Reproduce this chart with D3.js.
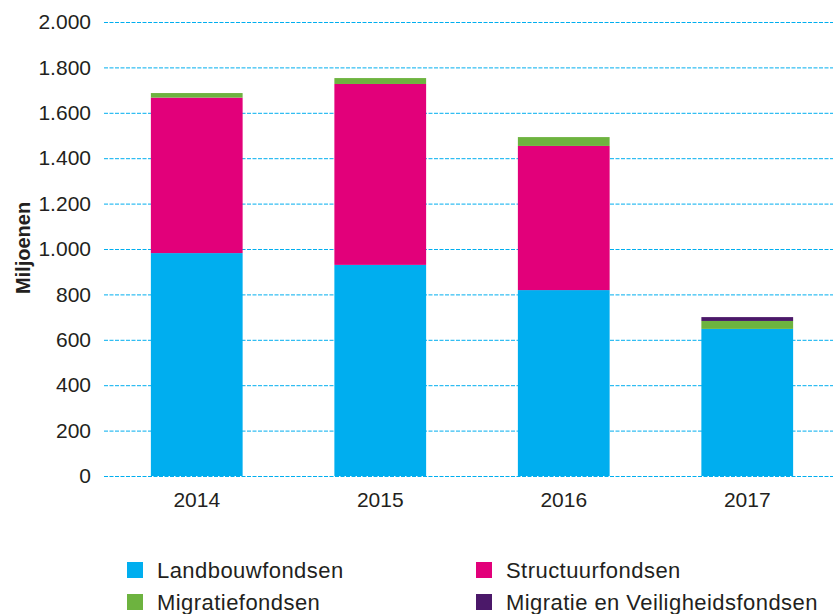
<!DOCTYPE html>
<html>
<head>
<meta charset="utf-8">
<script src="https://cdn.jsdelivr.net/npm/d3@7"></script>
<style>
  body { margin: 0; background: #fff; }
  text { font-family: "Liberation Sans", Arial, sans-serif; fill: #231f20; }
</style>
</head>
<body>
<div id="chart"></div>
<script>
// years and series (miljoenen euro)
var years = ["2014", "2015", "2016", "2017"];
var seriesNames = ["Landbouwfondsen", "Structuurfondsen", "Migratiefondsen", "Migratie en Veiligheidsfondsen"];
var landbouw = [982, 930, 819, 648];
var structuur = [685, 797, 635, 0];
var migratie = [20, 26, 39, 35];
var veiligheid = [0, 0, 0, 17];
var yTicks = [0, 200, 400, 600, 800, 1000, 1200, 1400, 1600, 1800, 2000];
var colors = ["#00aeef", "#e2007a", "#6db33f", "#4b1869"];

var width = 833, height = 614;
var margin = { top: 22, right: 0, bottom: 138, left: 104 };

var svg = d3.select("#chart").append("svg")
  .attr("width", width)
  .attr("height", height);

var rows = years.map(function(y, i) {
  return { Year: y, Landbouwfondsen: landbouw[i], Structuurfondsen: structuur[i],
    Migratiefondsen: migratie[i], "Migratie en Veiligheidsfondsen": veiligheid[i] };
});

var x = d3.scaleBand()
  .domain(years)
  .range([105, 839])
  .paddingInner(0.5)
  .paddingOuter(0.25);

var y = d3.scaleLinear()
  .domain([0, 2000])
  .range([height - margin.bottom, margin.top]);

var color = d3.scaleOrdinal().domain(seriesNames).range(colors);

// gridlines
svg.append("g")
  .selectAll("line")
  .data(yTicks)
  .enter()
  .append("line")
  .attr("x1", margin.left)
  .attr("x2", width)
  .attr("y1", function(d) { return y(d) + 0.5; })
  .attr("y2", function(d) { return y(d) + 0.5; })
  .attr("stroke", "#00aeef")
  .attr("stroke-width", 1)
  .attr("stroke-dasharray", "4,1.5");

// stacked bars
var stack = d3.stack().keys(seriesNames);
var layers = stack(rows);

svg.append("g")
  .selectAll("g")
  .data(layers)
  .enter()
  .append("g")
  .attr("fill", function(d) { return color(d.key); })
  .selectAll("rect")
  .data(function(d) { return d; })
  .enter()
  .append("rect")
  .attr("x", function(d) { return x(d.data.Year); })
  .attr("y", function(d) { return y(d[1]); })
  .attr("width", x.bandwidth())
  .attr("height", function(d) { return y(d[0]) - y(d[1]); });

// y axis labels
var fmt = function(d) { return d3.format(",")(d).replace(/,/g, "."); };
var yAxis = svg.append("g")
  .attr("transform", "translate(" + margin.left + ",0)")
  .call(d3.axisLeft(y).tickValues(yTicks).tickFormat(fmt).tickSize(0).tickPadding(13));
yAxis.select(".domain").remove();
yAxis.selectAll("text")
  .style("font-size", "21px")
  .style("font-family", "'Liberation Sans', Arial, sans-serif")
  .attr("fill", "#231f20");

// x axis labels
var xAxis = svg.append("g")
  .attr("transform", "translate(0," + (height - margin.bottom) + ")")
  .call(d3.axisBottom(x).tickSize(0).tickPadding(16));
xAxis.select(".domain").remove();
xAxis.selectAll("text")
  .style("font-size", "21px")
  .style("font-family", "'Liberation Sans', Arial, sans-serif")
  .attr("fill", "#231f20");

// y axis title
svg.append("text")
  .attr("transform", "translate(30,248) rotate(-90)")
  .attr("text-anchor", "middle")
  .style("font-size", "20px")
  .style("font-weight", "bold")
  .text("Miljoenen");

// legend
var legend = svg.selectAll(".legend")
  .data(seriesNames)
  .enter()
  .append("g")
  .attr("class", "legend")
  .attr("transform", function(d, i) {
    return "translate(" + (i % 2 === 0 ? 127 : 476) + "," + (i < 2 ? 562 : 594) + ")";
  });
legend.append("rect")
  .attr("width", 16)
  .attr("height", 16)
  .attr("fill", function(d) { return color(d); });
legend.append("text")
  .attr("x", 30)
  .attr("y", 8)
  .attr("dy", ".35em")
  .style("font-size", "22px")
  .style("letter-spacing", "0.45px")
  .text(function(d) { return d; });
</script>
</body>
</html>
